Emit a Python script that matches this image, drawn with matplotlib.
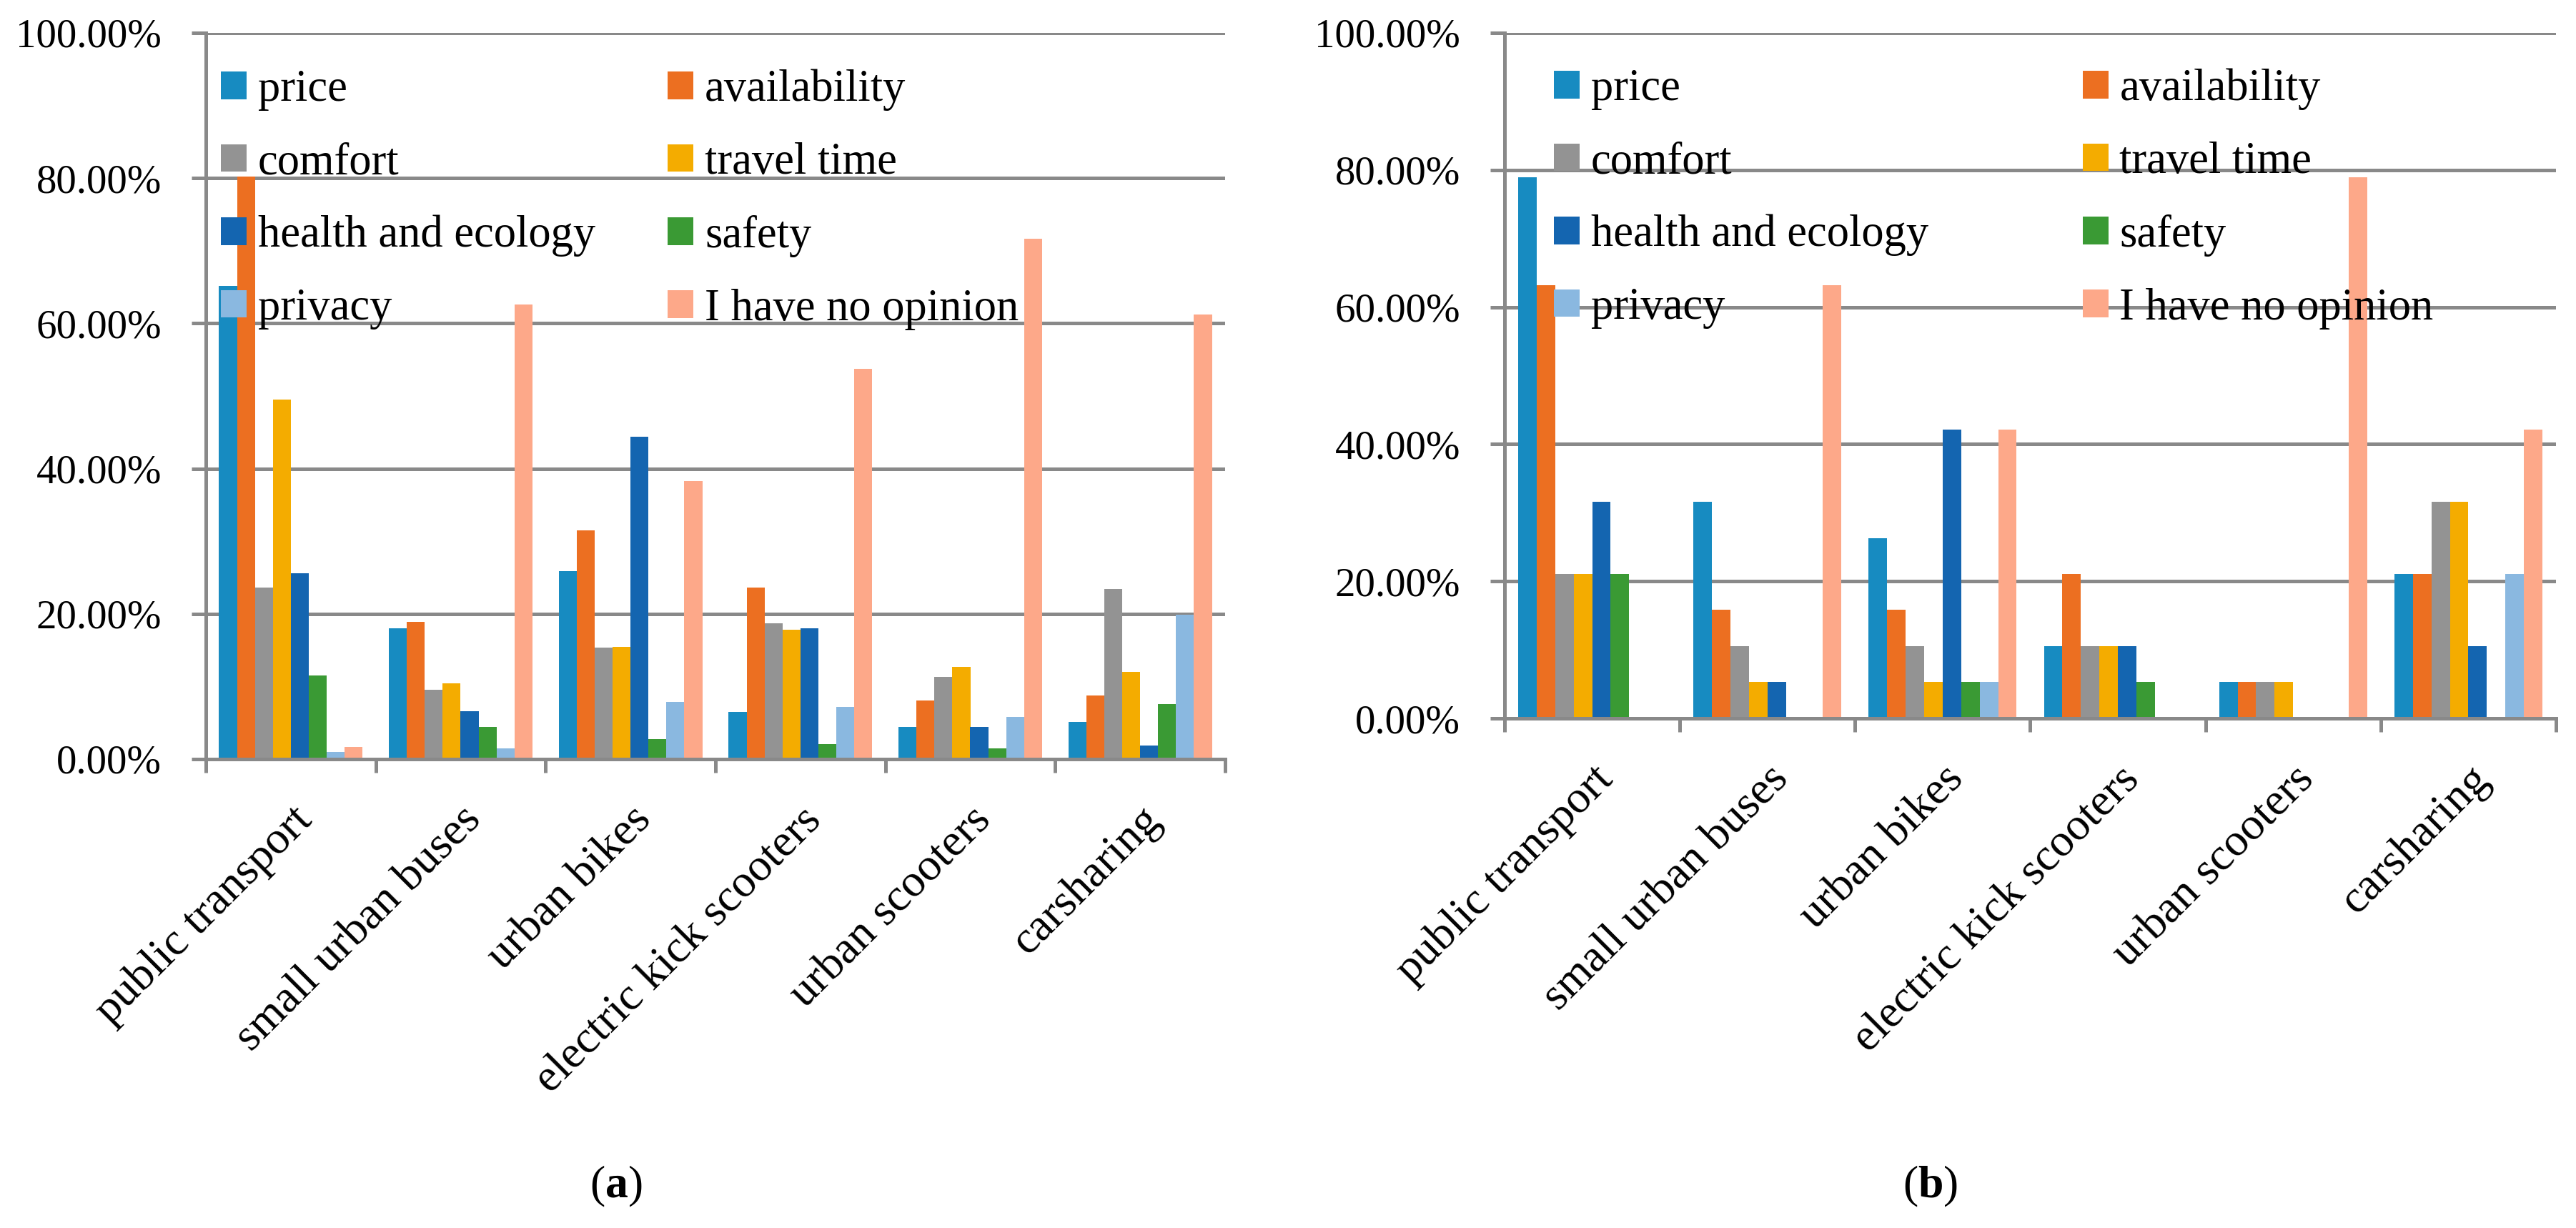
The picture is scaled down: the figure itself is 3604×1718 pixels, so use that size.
import matplotlib
matplotlib.use('Agg')
from matplotlib import pyplot as plt
from matplotlib.transforms import ScaledTranslation
import numpy as np

plt.rcParams['font.family'] = ['Liberation Serif', 'DejaVu Serif']
plt.rcParams['mathtext.fontset'] = 'custom'
plt.rcParams['mathtext.rm'] = 'Liberation Serif'
plt.rcParams['mathtext.bf'] = 'Liberation Serif:bold'

categories = ['public transport', 'small urban buses', 'urban bikes',
              'electric kick scooters', 'urban scooters', 'carsharing']
factors = ['price', 'availability', 'comfort', 'travel time',
           'health and ecology', 'safety', 'privacy', 'I have no opinion']
colors = ['#178BC1', '#EC6F21', '#939393', '#F4AC00',
          '#1465B0', '#3A9A34', '#8AB8E0', '#FDA889']

# panel (a), percent per factor, one list per category
values_a = [
    [65.2, 80.2, 23.6, 49.5, 25.6, 11.5, 1.0, 1.7],
    [18.0, 18.9, 9.5, 10.4, 6.6, 4.4, 1.5, 62.6],
    [25.9, 31.5, 15.4, 15.5, 44.4, 2.8, 7.9, 38.3],
    [6.5, 23.6, 18.7, 17.8, 18.0, 2.1, 7.2, 53.7],
    [4.4, 8.1, 11.3, 12.7, 4.4, 1.5, 5.8, 71.7],
    [5.1, 8.8, 23.4, 12.0, 1.9, 7.6, 19.9, 61.2],
]
# panel (b)
values_b = [
    [78.9, 63.2, 21.1, 21.1, 31.6, 21.1, 0.0, 0.0],
    [31.6, 15.8, 10.5, 5.3, 5.3, 0.0, 0.0, 63.2],
    [26.3, 15.8, 10.5, 5.3, 42.1, 5.3, 5.3, 42.1],
    [10.5, 21.1, 10.5, 10.5, 10.5, 5.3, 0.0, 0.0],
    [5.3, 5.3, 5.3, 5.3, 0.0, 0.0, 0.0, 78.9],
    [21.1, 21.1, 31.6, 31.6, 10.5, 0.0, 21.1, 42.1],
]
yticks = [0, 20, 40, 60, 80, 100]

W, H = 3605, 1718
fig = plt.figure(figsize=(W / 100, H / 100), dpi=100)

grid_c = '#898989'
lw = 3.6


def px_axes(x0, x1, y0, y1):
    return fig.add_axes([x0 / W, 1 - y1 / H, (x1 - x0) / W, (y1 - y0) / H])


def draw_panel(ax, values, leg_xy, colspace):
    vals = np.array(values)
    n_cat, n_f = vals.shape
    bw = 0.1056
    x = np.arange(n_cat)
    bars = []
    for j in range(n_f):
        b = ax.bar(x + (j - 3.5) * bw, vals[:, j], width=bw, color=colors[j],
                   label=factors[j], zorder=3)
        bars.append(b)
    ax.set_xlim(-0.5, n_cat - 0.5)
    ax.set_ylim(0, 100)
    ax.set_yticks(yticks)
    ax.set_yticklabels([f'{v:.2f}%' for v in yticks], fontsize=41)
    ax.yaxis.grid(True, color=grid_c, lw=lw, zorder=1)
    ax.set_axisbelow(True)
    ax.tick_params(axis='y', length=14.4, width=lw, color=grid_c, pad=30)
    ax.set_xticks(x)
    ax.set_xticklabels(categories, rotation=45, ha='right', va='top',
                       rotation_mode='anchor', fontsize=46)
    shift = ScaledTranslation(-8 / 100, 0, fig.dpi_scale_trans)
    for lab in ax.get_xticklabels():
        lab.set_transform(lab.get_transform() + shift)
    ax.set_xticks(np.arange(n_cat + 1) - 0.5, minor=True)
    ax.tick_params(axis='x', which='major', length=0, pad=40.5)
    ax.tick_params(axis='x', which='minor', length=13.7, width=lw, color=grid_c)
    for s in ['top', 'right']:
        ax.spines[s].set_visible(False)
    for s in ['left', 'bottom']:
        ax.spines[s].set_color(grid_c)
        ax.spines[s].set_linewidth(lw)
        ax.spines[s].set_zorder(4)
    # row-wise legend order
    order = [0, 2, 4, 6, 1, 3, 5, 7]
    ax.legend([bars[i] for i in order], [factors[i] for i in order], ncol=2,
              loc='upper left', bbox_to_anchor=leg_xy, frameon=False,
              fontsize=45, handlelength=0.58, handleheight=0.58,
              handletextpad=0.25, labelspacing=0.70, columnspacing=colspace,
              borderpad=0, borderaxespad=0)


ax1 = px_axes(288, 1714, 46, 1062)
draw_panel(ax1, values_a, (0.0147, 0.950), 1.62)
ax2 = px_axes(2105, 3576, 46, 1005)
draw_panel(ax2, values_b, (0.0469, 0.948), 3.45)

fig.text(862 / W, 1 - 1660 / H, r'($\mathbf{a}$)', ha='center', va='center', fontsize=46)
fig.text(2701 / W, 1 - 1660 / H, r'($\mathbf{b}$)', ha='center', va='center', fontsize=46)

fig.savefig('out.png', dpi=100)
